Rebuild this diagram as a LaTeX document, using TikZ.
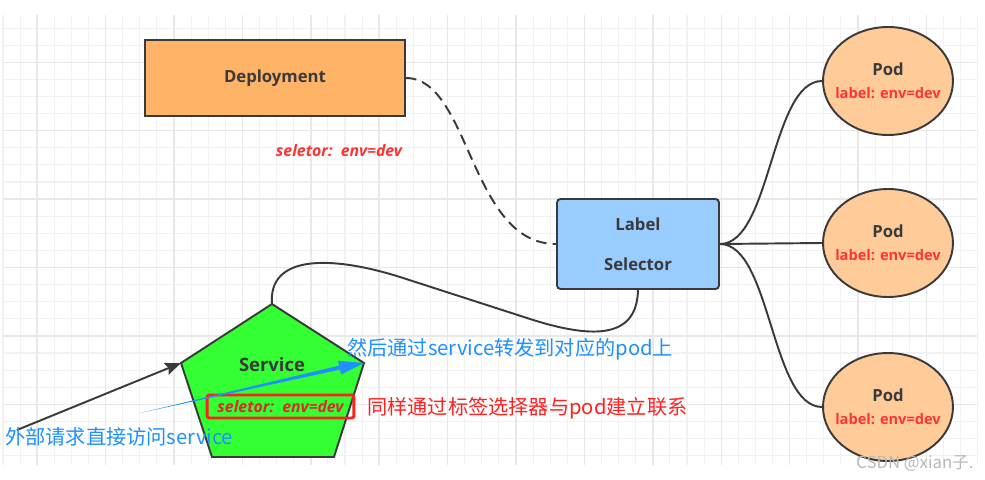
\documentclass[tikz,border=0pt]{standalone}
\usepackage{fontspec}
\setmainfont{Open Sans}
\newfontfamily\cjk{Noto Sans CJK SC}
\usetikzlibrary{arrows.meta, shapes.geometric, calc}
\definecolor{gridline}{HTML}{F2F2F2}
\definecolor{gridmajor}{HTML}{E8E8E8}
\definecolor{edgegray}{HTML}{3A3A3A}
\definecolor{deployfill}{HTML}{FFB366}
\definecolor{podfill}{HTML}{FFCC99}
\definecolor{selfill}{HTML}{99CCFF}
\definecolor{svcfill}{HTML}{33FF33}
\definecolor{tagred}{HTML}{FF3333}
\definecolor{noteblue}{HTML}{1E90FF}
\definecolor{notered}{HTML}{FF2020}
\tikzset{
  box/.style={draw=edgegray, line width=1.1pt, text=edgegray, font=\bfseries\fontsize{9.5}{11}\selectfont},
  pod/.style={ellipse, draw=edgegray, line width=1.1pt, fill=podfill, minimum width=2.6cm, minimum height=2.16cm, inner sep=0pt,
    label={[align=center, font=\bfseries]center:\podtext}},
  link/.style={draw=edgegray, line width=1.1pt},
  tag/.style={text=tagred, font=\bfseries\itshape\fontsize{9}{10}\selectfont},
  note/.style={font=\cjk\fontsize{11.5}{13}\selectfont, inner sep=0pt, anchor=west},
}
\newcommand{\podtext}{{\fontsize{9.5}{11}\selectfont\color{edgegray}Pod}\\[1pt]{\fontsize{8.3}{10}\selectfont\color{tagred}label: env=dev}}

\begin{document}
\begin{tikzpicture}[x=0.02cm, y=-0.02cm]
\useasboundingbox[fill=white] (0,0) rectangle (985,480);
% grid
\foreach \k in {0,...,57} {\pgfmathsetmacro\gx{3+17.1*\k} \draw[gridline, line width=0.6pt] (\gx,15) -- (\gx,465);}
\foreach \k in {1,...,26} {\pgfmathsetmacro\gy{11+17.1*\k} \draw[gridline, line width=0.6pt] (3,\gy) -- (977,\gy);}
\foreach \k in {2,6,...,54} {\pgfmathsetmacro\gx{3+17.1*\k} \draw[gridmajor, line width=0.8pt] (\gx,15) -- (\gx,465);}
\foreach \k in {3,7,...,23} {\pgfmathsetmacro\gy{11+17.1*\k} \draw[gridmajor, line width=0.8pt] (3,\gy) -- (977,\gy);}

% nodes
\node[box, fill=deployfill, minimum width=5.2cm, minimum height=1.52cm] (deploy) at (275,78) {\raisebox{-3.5pt}{Deployment}};
\node[tag] (deploySel) at (339,151) {seletor:\ \ env=dev};
\node[box, fill=selfill, rounded corners=2pt, minimum width=3.24cm, minimum height=1.8cm, align=center] (sel) at (638,244) {Label\\[12pt]Selector};
\node[pod] (pod1) at (888,81) {};
\node[pod] (pod2) at (888,243) {};
\node[pod] (pod3) at (888,407) {};

% service pentagon
\coordinate (svcTop) at (272,304);
\coordinate (svcLeft) at (181,363);
\coordinate (svcRight) at (364,363);
\filldraw[fill=svcfill, draw=edgegray, line width=1.1pt] (svcTop) -- (svcRight) -- (334,457) -- (212,457) -- (svcLeft) -- cycle;
\node[text=edgegray, font=\bfseries\fontsize{10.5}{12}\selectfont] (svc) at (272,365) {Service};
\node[draw=notered, line width=1.7pt, rounded corners=1pt, minimum width=2.94cm, minimum height=0.46cm, inner sep=0pt, tag, text=tagred!85!black] (svcSel) at (280.5,406.5) {seletor:\ \ env=dev};

% connectors
\draw[link, dash pattern=on 6pt off 3.5pt] (deploy.east) .. controls (470,78) and (470,244) .. (sel.west);
\draw[link] (sel.east) .. controls (771,244) and (771,81) .. (pod1.west);
\draw[link] (sel.east) -- (pod2.west);
\draw[link] (sel.east) .. controls (771,244) and (771,407) .. (pod3.west);
\draw[link] (svcTop) .. controls (268,255) and (330,255) .. (400,277) -- (527,318) .. controls (600,342) and (637,335) .. (sel.south);

% requests
\coordinate (extSrc) at (17,430);
\draw[link, -{Stealth[length=9pt, width=7pt, inset=1.5pt]}] (extSrc) -- (svcLeft);
\coordinate (blueTail) at (140,413);
\fill[noteblue] (blueTail) -- (339.2,365.6) -- (338.0,360.8) -- (svcRight) -- (341.2,374.4) -- (340.0,369.6) -- cycle;

% notes
\node[note, text=noteblue] (fwdNote) at (347,349) {然后通过service转发到对应的pod上};
\node[note, text=notered] (matchNote) at (367,408) {同样通过标签选择器与pod建立联系};
\node[note, text=noteblue] (extNote) at (5,437) {外部请求直接访问service};
\node[font=\cjk\fontsize{9.5}{11}\selectfont, text=black!28, inner sep=0pt] (mark) at (915,463) {CSDN @xian子.};
\end{tikzpicture}
\end{document}
